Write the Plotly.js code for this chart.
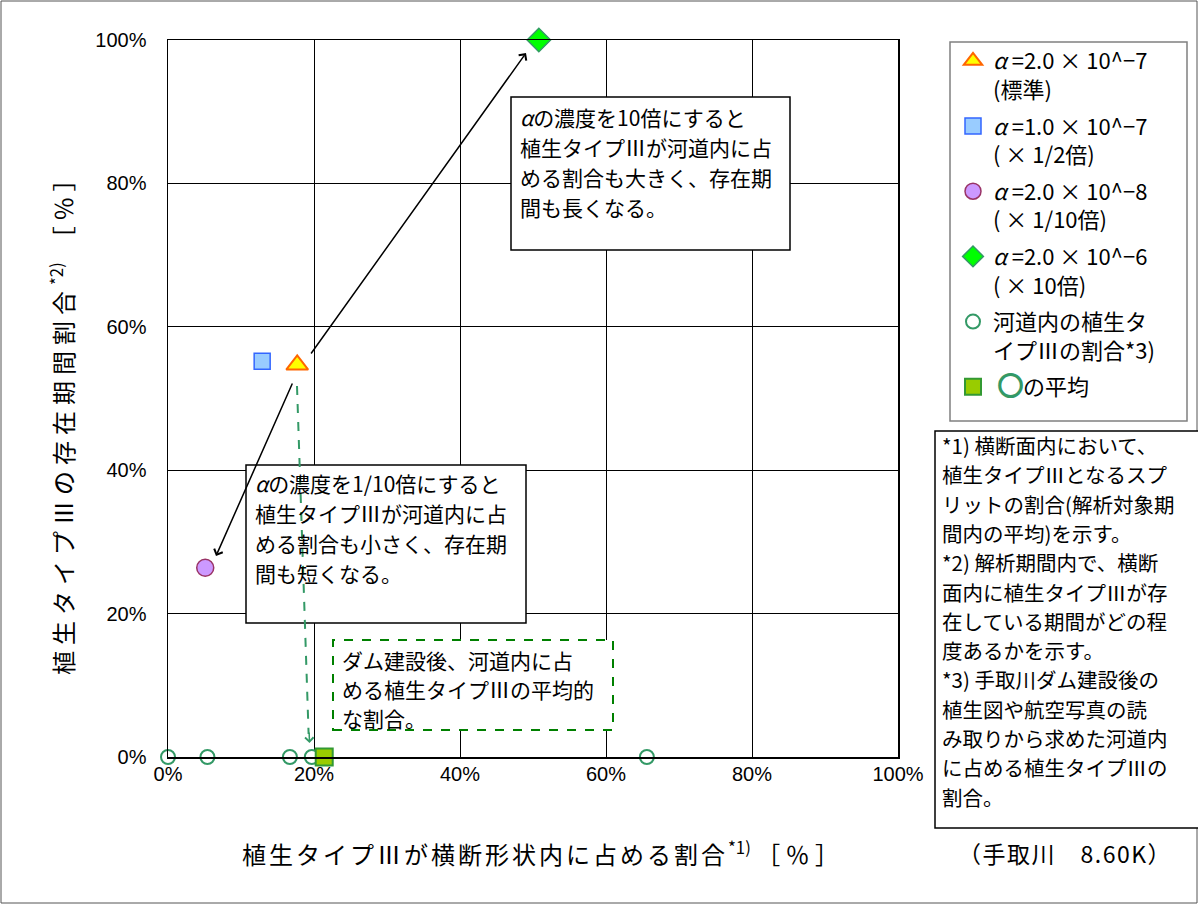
<!DOCTYPE html>
<html>
<head>
<meta charset="utf-8">
<script src="https://cdn.plot.ly/plotly-3.0.1.min.js"></script>
<style>
  body { margin: 0; background: #fff; }
  #chart { width: 1198px; height: 904px; }
</style>
</head>
<body>
<div id="chart"></div>
<script>
// ---------------- data ----------------
var stdX = [0.177], stdY = [0.547];        // α=2.0×10^-7 (標準)
var halfX = [0.129], halfY = [0.552];      // α=1.0×10^-7 (×1/2倍)
var tenthX = [0.051], tenthY = [0.264];    // α=2.0×10^-8 (×1/10倍)
var tenX = [0.508], tenY = [1.0];          // α=2.0×10^-6 (×10倍)
var obsX = [0, 0.054, 0.167, 0.197, 0.656];  // 河道内の植生タイプⅢの割合
var obsY = [0, 0, 0, 0, 0];
var avgX = [0.214], avgY = [0];            // ○の平均

var seriesNames = [
  '<i>α</i> =2.0 × 10^−7<br>(標準)',
  '<i>α</i> =1.0 × 10^−7<br>( × 1/2倍)',
  '<i>α</i> =2.0 × 10^−8<br>( × 1/10倍)',
  '<i>α</i> =2.0 × 10^−6<br>( × 10倍)',
  '河道内の植生タ<br>イプⅢの割合*3)',
  ' <span style="font-size:25px;color:#339966;stroke:#339966;stroke-width:2.2px">○</span>の平均'
];

var upText = ['<i>α</i>の濃度を10倍にすると', '植生タイプⅢが河道内に占', 'める割合も大きく、存在期', '間も長くなる。'];
var downText = ['<i>α</i>の濃度を1/10倍にすると', '植生タイプⅢが河道内に占', 'める割合も小さく、存在期', '間も短くなる。'];
var avgText = ['ダム建設後、河道内に占', 'める植生タイプⅢの平均的', 'な割合。'];
var noteText = [
  '*1) 横断面内において、', '植生タイプⅢとなるスプ', 'リットの割合(解析対象期', '間内の平均)を示す。',
  '*2) 解析期間内で、横断', '面内に植生タイプⅢが存', '在している期間がどの程', '度あるかを示す。',
  '*3) 手取川ダム建設後の', '植生図や航空写真の読', 'み取りから求めた河道内', 'に占める植生タイプⅢの', '割合。'
];

// ---------------- layout helpers (pixel -> paper) ----------------
var L = 168, T = 40, W = 730, H = 717;
function px(x) { return (x - L) / W; }
function py(y) { return (T + H - y) / H; }

var jp = '"Noto Sans CJK JP", "Noto Sans", sans-serif';

function textLines(lines, left, top, step, size) {
  return lines.map(function (s, i) {
    return {
      xref: 'paper', yref: 'paper', x: px(left), y: py(top + i * step),
      xanchor: 'left', yanchor: 'middle', showarrow: false, text: s,
      font: {family: jp, size: size, color: '#000'}
    };
  });
}

function box(x0, y0, x1, y1, color, dash, width) {
  return {
    type: 'rect', xref: 'paper', yref: 'paper', layer: 'above',
    x0: px(x0), x1: px(x1), y0: py(y1), y1: py(y0),
    fillcolor: 'rgba(255,255,255,1)',
    line: {color: color, width: width || 1.5, dash: dash || 'solid'}
  };
}

var traces = [
  {x: stdX, y: stdY, name: seriesNames[0], legendgroup: 'a', type: 'scatter', mode: 'markers', cliponaxis: false,
   marker: {symbol: 'triangle-up', size: 19, color: '#ffff00', line: {color: '#ff6600', width: 2}}},
  {x: halfX, y: halfY, name: seriesNames[1], legendgroup: 'b', type: 'scatter', mode: 'markers', cliponaxis: false,
   marker: {symbol: 'square', size: 16, color: '#99ccff', line: {color: '#3366ff', width: 1.5}}},
  {x: tenthX, y: tenthY, name: seriesNames[2], legendgroup: 'c', type: 'scatter', mode: 'markers', cliponaxis: false,
   marker: {symbol: 'circle', size: 17, color: '#cc99ff', line: {color: '#993366', width: 1.5}}},
  {x: tenX, y: tenY, name: seriesNames[3], legendgroup: 'd', type: 'scatter', mode: 'markers', cliponaxis: false,
   marker: {symbol: 'diamond', size: 18, color: '#00ff00', line: {color: '#339966', width: 1.5}}},
  {x: obsX, y: obsY, name: seriesNames[4], legendgroup: 'e', type: 'scatter', mode: 'markers', cliponaxis: false,
   marker: {symbol: 'circle', size: 14, color: '#ffffff', line: {color: '#339966', width: 2}}},
  {x: avgX, y: avgY, name: seriesNames[5], legendgroup: 'f', type: 'scatter', mode: 'markers', cliponaxis: false,
   marker: {symbol: 'square', size: 17, color: '#99cc00', line: {color: '#339933', width: 2}}}
];

var shapes = [
  // outer frame
  {type: 'rect', xref: 'paper', yref: 'paper', layer: 'below',
   x0: px(1), x1: px(1197), y0: py(903), y1: py(1), line: {color: '#555', width: 1}},
  box(511, 97, 790, 250, '#000', 'solid', 1.5),
  box(246, 465, 526, 623, '#000', 'solid', 1.5),
  box(333, 640, 613, 730, '#008000', 'dash', 2),
  box(950, 42, 1187, 421, '#808080', 'solid', 1.5),
  box(935, 431, 1210, 828, '#000', 'solid', 1.5),
  // green dashed guide from the standard case to the mean
  {type: 'line', xref: 'paper', yref: 'paper', layer: 'above',
   x0: px(297), y0: py(386), x1: px(308.6), y1: py(734),
   line: {color: '#339966', width: 2, dash: 'dash'}}
];

var annotations = []
  .concat(textLines(upText, 518, 117, 30, 21))
  .concat(textLines(downText, 253, 483, 30, 21))
  .concat(textLines(avgText, 340, 660, 29, 21))
  .concat(textLines(noteText, 940, 445, 29.3, 20.5))
  .concat([
    // arrows
    {xref: 'paper', yref: 'paper', x: px(526), y: py(53), ax: -216, ay: 302, text: '',
     showarrow: true, arrowhead: 4, arrowsize: 1.2, arrowwidth: 1.5, arrowcolor: '#000'},
    {xref: 'paper', yref: 'paper', x: px(216), y: py(556), ax: 77, ay: -174, text: '',
     showarrow: true, arrowhead: 4, arrowsize: 1.2, arrowwidth: 1.5, arrowcolor: '#000'},
    {xref: 'paper', yref: 'paper', x: px(309.5), y: py(743), ax: -0.4, ay: -12, text: '',
     showarrow: true, arrowhead: 4, arrowsize: 1.1, arrowwidth: 1.5, arrowcolor: '#339966'},
    // axis titles
    {xref: 'paper', yref: 'paper', x: px(540), y: py(853), xanchor: 'center', yanchor: 'middle',
     showarrow: false, font: {family: jp, size: 24, color: '#000'},
     text: '<span style="letter-spacing:3px">植生タイプⅢが横断形状内に占める割合</span><sup>*1)</sup> ［ ％ ］'},
    {xref: 'paper', yref: 'paper', x: px(62), y: py(421), xanchor: 'center', yanchor: 'middle',
     textangle: -90, showarrow: false, font: {family: jp, size: 24, color: '#000'},
     text: '<span style="letter-spacing:6px">植生タイプⅢの存在期間割合</span><sup>*2)</sup>　［ ％ ］'},
    {xref: 'paper', yref: 'paper', x: px(1065), y: py(853), xanchor: 'center', yanchor: 'middle',
     showarrow: false, font: {family: jp, size: 23, color: '#000'},
     text: '<span style="letter-spacing:1.5px">（手取川　8.60K）</span>'}
  ]);

var axisBase = {
  range: [0, 1], tick0: 0, dtick: 0.2, tickformat: '.0%',
  showgrid: true, gridcolor: '#000', gridwidth: 1,
  showline: true, linecolor: '#000', linewidth: 1.5, mirror: true,
  zeroline: false, ticks: '', fixedrange: true,
  tickfont: {family: '"Liberation Sans", Arial, sans-serif', size: 20, color: '#000'}
};

var layout = {
  width: 1198, height: 904,
  margin: {l: L, r: 1198 - L - W, t: T, b: 904 - T - H},
  paper_bgcolor: '#fff', plot_bgcolor: '#fff',
  xaxis: Object.assign({}, axisBase, {ticklabelstandoff: -2}),
  yaxis: Object.assign({}, axisBase, {ticklabelstandoff: 16}),
  showlegend: true,
  legend: {
    x: px(953), y: py(40), xanchor: 'left', yanchor: 'top',
    bgcolor: 'rgba(0,0,0,0)', borderwidth: 0, valign: 'top',
    font: {family: jp, size: 22, color: '#000'}, tracegroupgap: 5
  },
  shapes: shapes,
  annotations: annotations
};

Plotly.newPlot('chart', traces, layout, {displayModeBar: false, staticPlot: true});
</script>
</body>
</html>
